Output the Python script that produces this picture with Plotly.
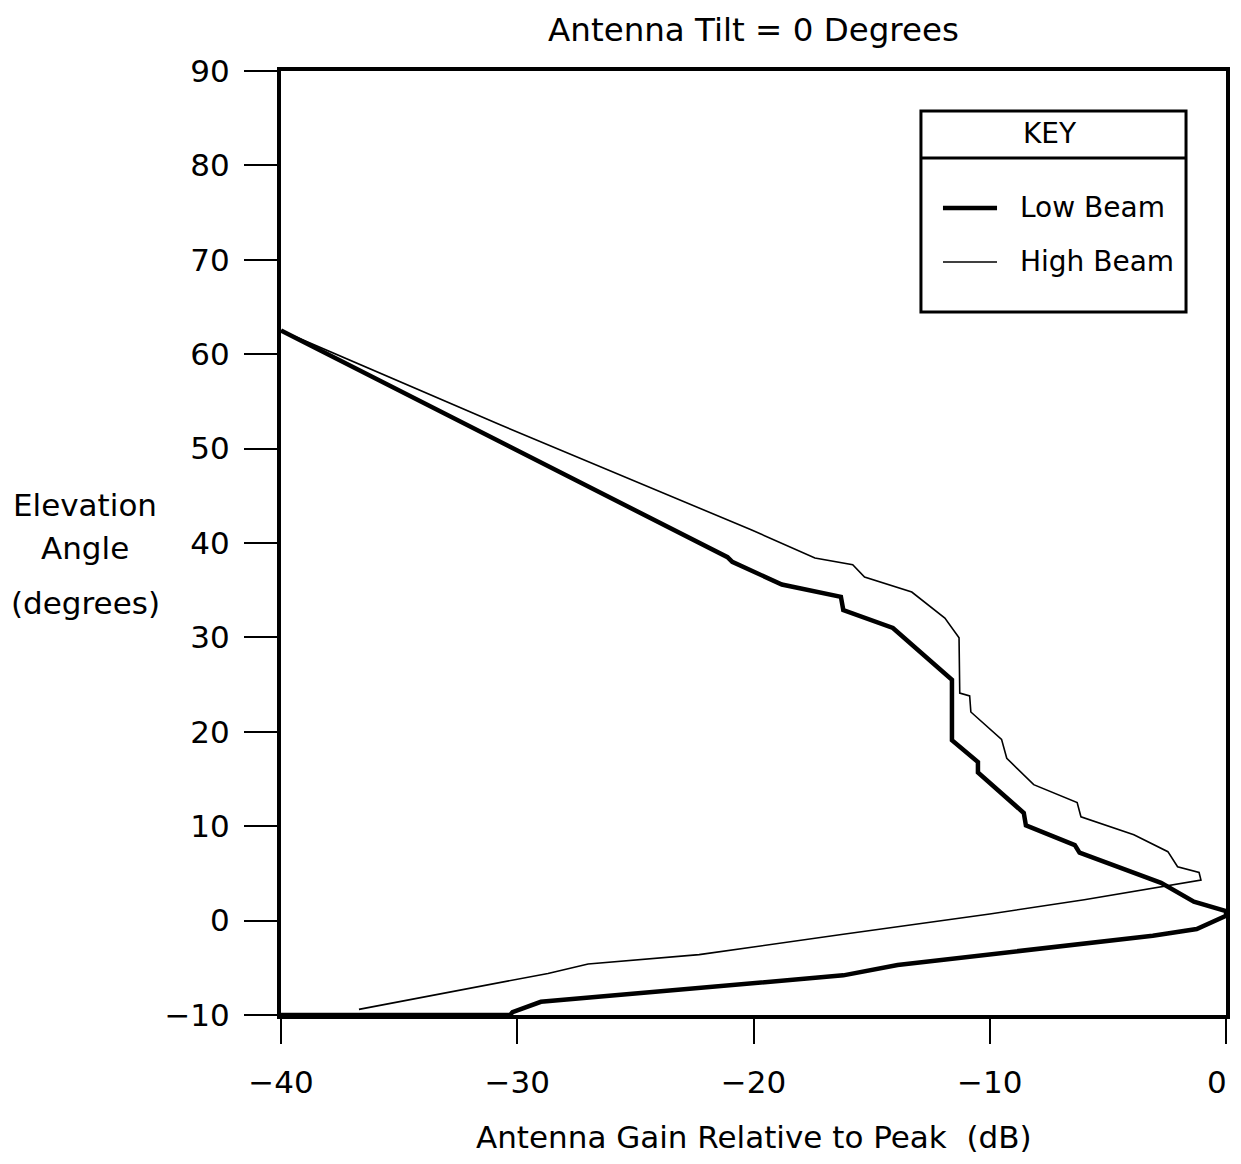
import plotly.graph_objects as go

# gain (dB) and elevation angle (degrees)
low_gain = [-40, -30.7, -22.2, -21.1, -20.9, -18.8, -16.3, -16.2, -14.1, -11.6, -11.6,
            -10.5, -10.5, -8.56, -8.47, -6.4, -6.2, -2.75, -1.36, 0, 0,
            -1.24, -3.1, -6.0, -10.0, -13.9, -16.2, -19.3, -25.9, -29.0, -30.2, -30.3, -40]
low_elev = [62.5, 50.7, 40.0, 38.5, 38.0, 35.6, 34.3, 32.9, 31.0, 25.5, 19.1,
            16.8, 15.7, 11.4, 10.1, 8.0, 7.2, 4.0, 2.0, 1.0, 0.5,
            -0.9, -1.6, -2.4, -3.6, -4.7, -5.8, -6.5, -7.9, -8.6, -9.7, -10, -10]

high_gain = [-40, -30.7, -20.1, -17.4, -15.8, -15.3, -13.3, -11.9, -11.3, -11.27, -10.85,
             -10.8, -9.5, -9.28, -8.14, -6.3, -6.14, -3.9, -2.46, -2.05, -1.14, -1.06,
             -6.0, -10.0, -16.2, -22.3, -27.0, -28.7, -36.7]
high_elev = [62.5, 52.5, 41.4, 38.4, 37.7, 36.4, 34.8, 32.05, 29.95, 24.1, 23.8,
             22.1, 19.2, 17.2, 14.4, 12.5, 11.0, 9.1, 7.3, 5.7, 5.1, 4.3,
             2.2, 0.7, -1.45, -3.6, -4.6, -5.6, -9.4]

x_ticks = [-40, -30, -20, -10, 0]
y_ticks = [-10, 0, 10, 20, 30, 40, 50, 60, 70, 80, 90]

FONT = "DejaVu Sans"

# the last x label sits just left of the corner in the original, so it is placed as a note
x_labels = [str(v).replace("-", "\u2212") for v in x_ticks]
last_label = x_labels[-1]
x_labels[-1] = ""

fig = go.Figure()
fig.add_trace(go.Scatter(x=high_gain, y=high_elev, mode="lines", name="High Beam",
                         line=dict(color="black", width=1.6), showlegend=False))
fig.add_trace(go.Scatter(x=low_gain, y=low_elev, mode="lines", name="Low Beam",
                         line=dict(color="black", width=4.5), showlegend=False))

axis_common = dict(showline=True, mirror=True, linewidth=4, linecolor="black",
                   ticks="outside", tickwidth=1.6, tickcolor="black",
                   showgrid=False, zeroline=False, automargin=False,
                   tickfont=dict(family=FONT, size=31, color="black"))

fig.update_xaxes(range=[-40, 0], tickvals=x_ticks, ticktext=x_labels, ticklen=25,
                 ticklabelstandoff=12, **axis_common)
fig.update_yaxes(range=[-10, 90], tickvals=y_ticks, ticklen=33,
                 ticklabelstandoff=8, **axis_common)

# key box drawn by hand (header + two samples)
shapes = [
    dict(type="rect", xref="paper", yref="paper", x0=0.6772, x1=0.9577, y0=0.7447, y1=0.9576,
         line=dict(color="black", width=3), fillcolor="white"),
    dict(type="line", xref="paper", yref="paper", x0=0.6772, x1=0.9577, y0=0.9078, y1=0.9078,
         line=dict(color="black", width=3)),
    dict(type="line", xref="paper", yref="paper", x0=0.7005, x1=0.7577, y0=0.8549, y1=0.8549,
         line=dict(color="black", width=4.5)),
    dict(type="line", xref="paper", yref="paper", x0=0.7005, x1=0.7577, y0=0.7977, y1=0.7977,
         line=dict(color="black", width=1.6)),
]

txt = dict(family=FONT, size=28, color="black")
big = dict(family=FONT, size=31, color="black")


def note(text, x, y, font, xanchor="center"):
    return dict(text=text, x=x, y=y, xref="paper", yref="paper", xanchor=xanchor,
                yanchor="middle", showarrow=False, font=font)


annotations = [
    note("KEY", 0.8138, 0.9333, txt),
    note("Low Beam", 0.7799, 0.8549, txt, "left"),
    note("High Beam", 0.7799, 0.7977, txt, "left"),
    note("Elevation", -0.2074, 0.540, big),
    note("Angle", -0.2074, 0.4947, big),
    note("(degrees)", -0.2074, 0.4364, big),
    note("Antenna Gain Relative to Peak  (dB)", 0.5, -0.1292, big),
    dict(text=last_label, x=x_ticks[-1], xref="x", y=-0.0706, yref="paper",
         xanchor="center", yanchor="middle", xshift=-9, showarrow=False, font=big),
]

# page body adds an 8px margin, so the figure is made that much smaller
fig.update_layout(
    width=1225, height=1148, autosize=False,
    margin=dict(l=273, r=7, t=63, b=141),
    paper_bgcolor="white", plot_bgcolor="white",
    title=dict(text="Antenna Tilt = 0 Degrees", xref="paper", x=0.5, xanchor="center",
               y=1 - 22 / 1148, yanchor="middle", automargin=False,
               font=dict(family=FONT, size=32.5, color="black")),
    shapes=shapes, annotations=annotations,
)

fig.write_html("out.html")
